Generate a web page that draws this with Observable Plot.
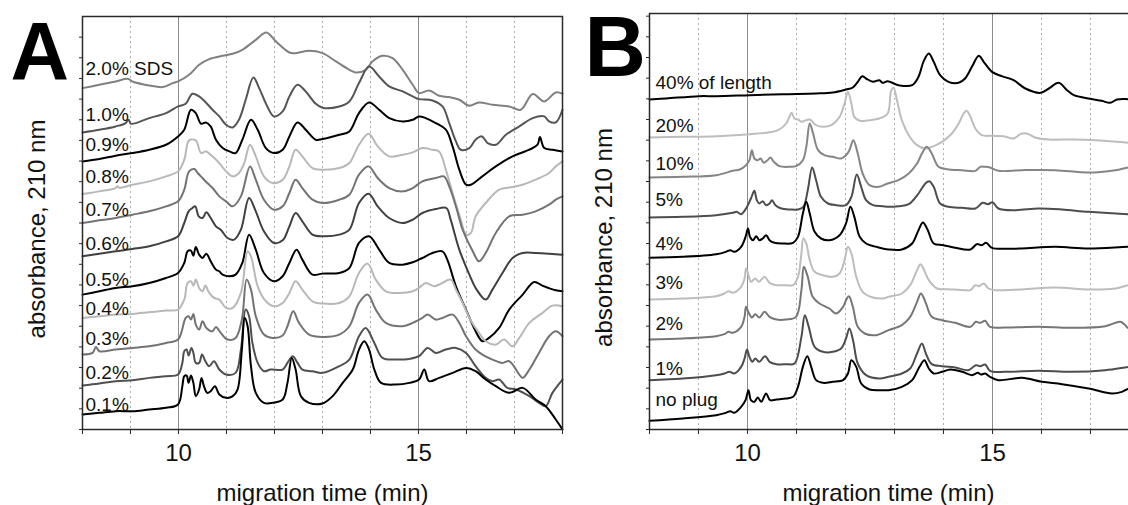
<!DOCTYPE html>
<html>
<head>
<meta charset="utf-8">
<script src="https://cdn.jsdelivr.net/npm/d3@7"></script>
<script src="https://cdn.jsdelivr.net/npm/@observablehq/plot@0.6"></script>
<style>
  html, body { margin: 0; padding: 0; background: #fff; overflow: hidden; }
  #wrap { position: relative; width: 1128px; height: 505px; overflow: hidden; }
  #wrap > div { position: absolute; top: 0; }
  #wrap svg { max-width: none !important; }
</style>
</head>
<body>
<div id="wrap"><div id="pa" style="left:0;width:570px"></div><div id="pb" style="left:570px;width:579px"></div></div>
<script>
// ---------- DATA (migration time in min, absorbance in arbitrary units) ----------
// Panel A: SDS concentration in plug
const a_sds20 = [[8.00,1025],[8.35,1035],[8.69,1045],[8.94,1053],[9.04,1045],[9.39,1033],[9.67,1028],[9.88,1040],[9.99,1045],[10.22,1065],[10.43,1095],[10.64,1112],[10.92,1122],[11.13,1128],[11.33,1140],[11.61,1170],[11.83,1192],[12.03,1165],[12.31,1132],[12.44,1130],[12.72,1137],[13.00,1130],[13.28,1105],[13.56,1080],[13.69,1072],[13.90,1080],[14.04,1105],[14.25,1122],[14.46,1115],[14.67,1080],[14.88,1035],[15.01,1010],[15.22,1018],[15.43,1002],[15.64,998],[15.85,990],[16.06,972],[16.26,982],[16.54,975],[16.89,970],[17.13,960],[17.38,1007],[17.62,985],[17.86,1012],[18.00,1008]];
const a_p10 = [[8.00,892],[8.35,900],[8.69,910],[8.90,920],[8.96,930],[9.01,918],[9.39,935],[9.74,950],[9.99,970],[10.15,978],[10.29,1008],[10.43,1000],[10.57,982],[10.71,960],[10.85,940],[10.99,915],[11.13,907],[11.26,930],[11.40,990],[11.56,1057],[11.68,1025],[11.85,970],[11.99,940],[12.17,955],[12.31,1000],[12.48,1035],[12.65,1015],[12.86,978],[13.00,966],[13.35,970],[13.56,985],[13.76,1040],[13.97,1090],[14.18,1060],[14.39,1030],[14.67,1015],[14.88,1000],[15.01,992],[15.29,988],[15.50,970],[15.64,920],[15.78,865],[15.88,840],[16.06,845],[16.19,870],[16.32,880],[16.44,860],[16.61,855],[16.82,885],[17.10,910],[17.38,935],[17.62,940],[17.72,925],[17.86,922],[18.00,960]];
const a_p09 = [[8.00,805],[8.35,812],[8.69,822],[9.04,830],[9.39,840],[9.74,855],[9.99,880],[10.12,900],[10.26,960],[10.36,950],[10.47,918],[10.57,922],[10.67,910],[10.78,870],[10.92,845],[11.06,835],[11.19,830],[11.33,870],[11.51,930],[11.65,900],[11.82,845],[11.99,830],[12.17,840],[12.31,880],[12.48,922],[12.65,900],[12.86,870],[13.00,872],[13.35,885],[13.56,895],[13.76,950],[13.97,982],[14.18,960],[14.39,935],[14.67,925],[14.88,930],[15.01,940],[15.15,935],[15.36,920],[15.57,900],[15.71,850],[15.85,780],[15.99,735],[16.09,735],[16.33,760],[16.61,790],[16.96,820],[17.31,840],[17.48,855],[17.53,878],[17.62,845],[17.79,840],[18.00,835]];
const a_p08 = [[8.00,707],[8.35,715],[8.69,725],[8.73,730],[8.76,726],[9.04,735],[9.39,745],[9.74,760],[9.99,775],[10.12,810],[10.22,868],[10.36,868],[10.47,830],[10.57,835],[10.71,820],[10.85,800],[10.99,775],[11.13,760],[11.26,770],[11.37,800],[11.49,855],[11.61,820],[11.78,760],[11.96,740],[12.17,750],[12.31,790],[12.44,840],[12.58,820],[12.79,785],[13.00,780],[13.35,785],[13.56,800],[13.76,855],[13.96,888],[14.15,850],[14.39,820],[14.67,825],[14.88,832],[15.08,845],[15.29,840],[15.43,835],[15.57,780],[15.71,710],[15.88,630],[15.99,585],[16.09,590],[16.19,640],[16.40,680],[16.68,720],[16.96,728],[17.17,735],[17.44,750],[17.72,770],[17.86,790],[18.00,805]];
const a_p07 = [[8.00,620],[8.35,628],[8.69,635],[9.04,645],[9.39,655],[9.74,670],[9.99,685],[10.12,720],[10.22,775],[10.33,782],[10.40,770],[10.50,755],[10.60,740],[10.71,725],[10.85,700],[10.99,685],[11.13,670],[11.30,700],[11.49,790],[11.61,750],[11.78,690],[11.99,660],[12.17,670],[12.31,710],[12.44,750],[12.58,725],[12.79,690],[13.00,680],[13.35,690],[13.56,705],[13.76,765],[13.96,790],[14.15,755],[14.39,725],[14.67,715],[14.88,725],[15.08,745],[15.36,755],[15.53,760],[15.64,730],[15.78,670],[15.92,600],[16.13,535],[16.26,505],[16.40,530],[16.61,590],[16.89,640],[17.17,645],[17.44,655],[17.72,675],[17.86,690],[18.00,700]];
const a_p06 = [[8.00,520],[8.35,528],[8.69,535],[9.04,542],[9.39,550],[9.74,565],[9.99,580],[10.12,620],[10.21,655],[10.29,665],[10.35,670],[10.42,640],[10.50,635],[10.58,652],[10.67,635],[10.78,610],[10.88,600],[11.02,575],[11.16,570],[11.30,600],[11.47,695],[11.61,655],[11.78,595],[11.99,560],[12.17,568],[12.31,610],[12.44,650],[12.58,625],[12.79,585],[13.00,580],[13.35,585],[13.56,600],[13.76,680],[13.96,708],[14.15,670],[14.39,635],[14.67,620],[14.88,630],[15.08,650],[15.36,662],[15.58,665],[15.67,630],[15.85,540],[16.06,465],[16.19,425],[16.40,390],[16.54,420],[16.75,470],[16.96,515],[17.17,530],[17.44,530],[17.72,528],[18.00,525]];
const a_p05 = [[8.00,405],[8.35,415],[8.69,425],[9.04,430],[9.39,440],[9.74,455],[9.99,470],[10.12,500],[10.19,535],[10.26,537],[10.31,522],[10.36,548],[10.43,525],[10.50,515],[10.58,528],[10.67,505],[10.78,480],[10.85,475],[10.92,465],[11.06,460],[11.19,465],[11.33,500],[11.47,585],[11.61,540],[11.78,470],[11.99,445],[12.17,460],[12.31,500],[12.46,540],[12.58,510],[12.79,465],[13.00,468],[13.35,470],[13.56,485],[13.76,560],[13.97,580],[14.18,540],[14.39,500],[14.67,495],[14.88,502],[15.08,515],[15.29,530],[15.50,535],[15.60,510],[15.78,430],[15.99,360],[16.19,295],[16.33,265],[16.47,275],[16.68,305],[16.89,360],[17.17,405],[17.41,443],[17.58,432],[17.86,418],[18.00,415]];
const a_p04 = [[8.00,335],[8.35,340],[8.69,345],[9.04,347],[9.39,352],[9.74,357],[9.99,360],[10.12,390],[10.19,440],[10.26,445],[10.31,432],[10.36,450],[10.43,425],[10.50,415],[10.56,432],[10.64,410],[10.74,395],[10.85,390],[10.99,365],[11.13,365],[11.30,410],[11.44,535],[11.51,520],[11.65,430],[11.82,385],[11.99,370],[12.17,380],[12.31,410],[12.44,445],[12.58,420],[12.79,385],[13.00,378],[13.35,380],[13.56,400],[13.76,470],[13.94,498],[14.11,450],[14.32,415],[14.60,410],[14.88,415],[15.01,425],[15.15,440],[15.33,430],[15.47,438],[15.67,450],[15.78,420],[15.92,380],[16.06,335],[16.26,290],[16.40,265],[16.61,255],[16.78,270],[16.96,250],[17.10,275],[17.31,320],[17.58,350],[17.79,372],[18.00,370]];
const a_p03 = [[8.00,225],[8.21,230],[8.28,248],[8.35,235],[8.69,240],[9.04,245],[9.39,250],[9.74,260],[9.99,270],[10.15,335],[10.21,340],[10.26,330],[10.31,347],[10.36,315],[10.43,300],[10.50,325],[10.58,305],[10.71,295],[10.78,308],[10.88,290],[11.02,270],[11.19,275],[11.32,330],[11.42,450],[11.51,420],[11.61,340],[11.78,285],[11.96,275],[12.17,282],[12.27,310],[12.39,355],[12.51,320],[12.72,285],[13.00,278],[13.35,285],[13.56,310],[13.76,380],[13.94,405],[14.11,360],[14.32,320],[14.67,310],[14.88,320],[15.08,335],[15.19,345],[15.36,330],[15.50,335],[15.71,345],[15.85,320],[15.99,280],[16.19,240],[16.33,225],[16.54,210],[16.75,200],[16.89,205],[17.10,165],[17.17,155],[17.31,180],[17.51,230],[17.72,280],[17.86,295],[18.00,280]];
const a_p02 = [[8.00,132],[8.35,138],[8.69,145],[9.04,148],[9.39,155],[9.74,160],[9.99,165],[10.08,200],[10.12,235],[10.17,240],[10.21,222],[10.27,245],[10.31,230],[10.36,200],[10.43,200],[10.49,225],[10.56,205],[10.64,190],[10.74,205],[10.85,180],[10.99,165],[11.19,170],[11.30,240],[11.40,360],[11.47,340],[11.54,260],[11.65,200],[11.78,175],[11.92,180],[12.17,180],[12.27,200],[12.38,220],[12.48,200],[12.58,180],[12.79,175],[13.00,170],[13.35,190],[13.56,210],[13.76,280],[13.90,305],[14.08,260],[14.25,215],[14.53,210],[14.81,212],[15.01,220],[15.19,245],[15.36,230],[15.57,240],[15.78,245],[15.99,230],[16.19,190],[16.40,155],[16.54,145],[16.68,150],[16.85,125],[17.03,120],[17.31,100],[17.51,80],[17.65,70],[17.79,110],[18.00,150]];
const a_p01 = [[8.00,45],[8.35,50],[8.69,55],[9.04,55],[9.39,60],[9.74,65],[9.99,75],[10.08,130],[10.12,160],[10.17,162],[10.21,140],[10.26,162],[10.31,140],[10.36,100],[10.43,120],[10.48,155],[10.53,130],[10.60,110],[10.67,115],[10.76,130],[10.85,105],[10.99,95],[11.13,100],[11.23,120],[11.32,240],[11.38,335],[11.44,310],[11.51,190],[11.61,110],[11.78,80],[11.96,80],[12.17,90],[12.27,140],[12.36,215],[12.44,180],[12.55,100],[12.72,80],[13.00,78],[13.21,100],[13.42,140],[13.63,180],[13.76,240],[13.87,265],[13.97,240],[14.08,180],[14.22,140],[14.53,135],[14.81,140],[15.01,150],[15.12,180],[15.22,145],[15.43,155],[15.71,170],[15.99,185],[16.19,175],[16.40,150],[16.61,130],[16.89,110],[17.17,125],[17.44,90],[17.65,70],[17.86,30],[18.00,0]];
const seriesA = [a_sds20, a_p10, a_p09, a_p08, a_p07, a_p06, a_p05, a_p04, a_p03, a_p02, a_p01];
const labelsA = ["2.0% SDS","1.0%","0.9%","0.8%","0.7%","0.6%","0.5%","0.4%","0.3%","0.2%","0.1%"];
const labelLevelA = [1065, 925, 835, 740, 642, 540, 432, 345, 255, 152, 55];

// Panel B: plug length (% of capillary length)
const b_40 = [[8.00,990],[8.34,993],[9.01,1000],[9.36,1000],[10.04,1003],[10.72,1006],[11.40,1008],[11.74,1011],[12.01,1020],[12.15,1026],[12.25,1043],[12.34,1060],[12.42,1053],[12.56,1043],[12.69,1048],[12.76,1040],[12.86,1045],[13.08,1033],[13.36,1033],[13.49,1058],[13.59,1103],[13.70,1128],[13.80,1103],[13.93,1063],[14.10,1043],[14.31,1040],[14.44,1053],[14.58,1088],[14.72,1121],[14.82,1103],[14.99,1073],[15.19,1060],[15.43,1048],[15.67,1023],[15.98,1010],[16.15,1023],[16.35,1040],[16.52,1018],[16.66,1003],[16.96,993],[17.23,986],[17.40,980],[17.54,990],[17.78,991],[18.00,990]];
const b_20 = [[8.00,876],[8.68,878],[9.36,880],[10.04,886],[10.38,890],[10.62,898],[10.79,918],[10.86,940],[10.90,950],[10.96,933],[11.03,930],[11.10,923],[11.16,926],[11.27,930],[11.40,913],[11.54,908],[11.71,913],[11.88,938],[11.98,978],[12.05,1013],[12.12,978],[12.18,938],[12.29,926],[12.49,928],[12.69,933],[12.86,948],[12.93,1016],[12.98,1026],[13.05,988],[13.15,928],[13.29,883],[13.46,853],[13.63,843],[13.76,848],[13.97,863],[14.17,888],[14.31,918],[14.41,948],[14.47,956],[14.55,938],[14.65,903],[14.78,883],[14.99,881],[15.23,880],[15.43,873],[15.57,886],[15.70,888],[15.87,876],[16.15,870],[16.62,870],[17.10,868],[17.78,860],[18.00,858]];
const b_10 = [[8.00,756],[8.68,758],[9.36,763],[9.70,776],[9.84,780],[9.97,793],[10.04,808],[10.09,838],[10.14,813],[10.21,808],[10.27,813],[10.33,800],[10.41,808],[10.47,816],[10.54,803],[10.65,790],[10.86,788],[10.99,790],[11.13,808],[11.20,848],[11.27,918],[11.33,893],[11.44,838],[11.57,823],[11.74,818],[11.91,813],[12.01,823],[12.08,838],[12.16,868],[12.25,828],[12.35,768],[12.49,733],[12.69,728],[12.86,738],[13.08,748],[13.29,768],[13.46,798],[13.56,828],[13.66,848],[13.76,828],[13.90,788],[14.07,781],[14.38,778],[14.65,776],[14.75,788],[14.85,788],[14.95,786],[15.12,776],[15.60,778],[16.28,778],[16.96,771],[17.51,778],[17.78,786],[18.00,788]];
const b_05 = [[8.00,636],[8.68,638],[9.36,643],[9.70,650],[9.78,653],[9.87,646],[9.97,663],[10.07,693],[10.14,716],[10.19,688],[10.24,678],[10.31,685],[10.38,673],[10.45,678],[10.50,688],[10.57,673],[10.69,663],[10.86,660],[11.03,660],[11.14,668],[11.23,718],[11.32,786],[11.40,748],[11.50,698],[11.64,678],[11.81,673],[12.01,673],[12.12,698],[12.23,765],[12.32,728],[12.42,688],[12.56,673],[12.76,670],[12.88,668],[13.08,670],[13.29,676],[13.49,708],[13.63,738],[13.71,745],[13.80,728],[13.93,678],[14.10,668],[14.38,665],[14.65,663],[14.80,680],[14.91,676],[15.00,682],[15.12,663],[15.47,658],[15.94,663],[16.42,660],[16.96,653],[17.78,646],[18.00,645]];
const b_04 = [[8.00,515],[8.68,518],[9.36,526],[9.56,533],[9.65,538],[9.73,533],[9.87,548],[9.96,578],[10.01,603],[10.05,578],[10.11,568],[10.18,580],[10.24,568],[10.31,573],[10.38,583],[10.45,568],[10.55,560],[10.72,558],[10.93,560],[11.03,578],[11.13,648],[11.20,683],[11.27,648],[11.37,593],[11.50,573],[11.67,568],[11.88,583],[12.01,618],[12.10,668],[12.18,638],[12.29,578],[12.42,558],[12.63,548],[12.88,540],[13.15,540],[13.36,558],[13.49,598],[13.58,621],[13.68,598],[13.80,558],[14.00,553],[14.24,545],[14.55,540],[14.68,556],[14.78,553],[14.87,560],[14.99,545],[15.26,542],[15.60,543],[16.28,548],[16.96,543],[17.78,548],[18.00,548]];
const b_03 = [[8.00,390],[8.68,393],[9.36,400],[9.53,408],[9.61,415],[9.70,410],[9.87,428],[9.94,453],[9.97,483],[10.03,458],[10.07,443],[10.16,453],[10.23,443],[10.35,458],[10.45,440],[10.59,433],[10.79,433],[10.93,433],[11.03,458],[11.10,528],[11.14,573],[11.20,558],[11.27,508],[11.37,473],[11.54,463],[11.74,458],[11.88,468],[11.98,508],[12.05,548],[12.12,528],[12.22,458],[12.35,413],[12.56,396],[12.76,393],[12.88,398],[13.15,408],[13.32,433],[13.46,478],[13.53,496],[13.59,483],[13.70,448],[13.87,423],[14.10,421],[14.44,418],[14.55,418],[14.65,433],[14.73,430],[14.82,438],[14.92,423],[15.06,418],[15.60,420],[16.28,426],[16.96,420],[17.51,423],[17.78,433],[18.00,438]];
const b_02 = [[8.00,270],[8.68,273],[9.36,280],[9.53,286],[9.61,293],[9.70,290],[9.87,308],[9.94,338],[9.97,368],[10.03,348],[10.09,336],[10.16,346],[10.24,336],[10.35,353],[10.45,338],[10.59,330],[10.79,330],[10.99,338],[11.10,418],[11.15,488],[11.23,458],[11.33,398],[11.47,378],[11.67,363],[11.81,348],[11.95,368],[12.01,388],[12.07,400],[12.15,368],[12.25,308],[12.39,288],[12.63,283],[12.88,298],[13.15,313],[13.32,338],[13.46,383],[13.54,408],[13.63,383],[13.76,338],[13.97,328],[14.24,320],[14.55,308],[14.66,323],[14.75,320],[14.85,326],[14.95,308],[15.26,306],[15.94,308],[16.62,305],[17.30,310],[17.61,323],[17.71,313],[17.78,303],[18.00,298]];
const b_01 = [[8.00,148],[8.68,153],[9.36,163],[9.53,168],[9.63,173],[9.73,168],[9.87,188],[9.94,213],[9.99,240],[10.04,218],[10.10,203],[10.16,213],[10.24,203],[10.36,220],[10.45,203],[10.59,196],[10.79,196],[10.96,198],[11.10,278],[11.17,343],[11.25,308],[11.37,248],[11.54,233],[11.74,233],[11.91,243],[12.01,273],[12.08,303],[12.16,263],[12.25,198],[12.42,163],[12.69,153],[12.88,158],[13.15,168],[13.32,183],[13.46,228],[13.56,258],[13.64,228],[13.76,196],[13.97,190],[14.24,186],[14.51,178],[14.66,193],[14.75,190],[14.85,195],[14.95,176],[15.26,173],[15.94,176],[16.62,173],[17.30,178],[17.78,188],[18.00,192]];
const b_00 = [[8.00,26],[8.68,33],[9.36,43],[9.56,50],[9.65,55],[9.73,50],[9.87,68],[9.96,88],[10.02,118],[10.07,88],[10.14,83],[10.21,96],[10.28,83],[10.38,108],[10.46,88],[10.59,90],[10.79,93],[10.93,98],[11.03,128],[11.13,188],[11.22,220],[11.30,188],[11.40,148],[11.54,140],[11.74,143],[11.95,148],[12.05,168],[12.12,208],[12.22,188],[12.32,138],[12.49,120],[12.76,118],[12.88,118],[13.15,128],[13.36,148],[13.51,188],[13.61,208],[13.70,183],[13.80,168],[13.97,173],[14.14,180],[14.38,173],[14.58,163],[14.70,170],[14.77,165],[14.85,168],[14.95,158],[15.12,148],[15.60,155],[16.01,143],[16.42,136],[16.96,123],[17.44,108],[17.64,113],[17.78,123],[18.00,130]];
const seriesB = [b_40, b_20, b_10, b_05, b_04, b_03, b_02, b_01, b_00];
const labelsB = ["40% of length","20%","10%","5%","4%","3%","2%","1%","no plug"];
const labelLevelB = [1023, 893, 778, 670, 538, 423, 298, 165, 70];

const xTicks = [8, 9, 10, 11, 12, 13, 14, 15, 16, 17, 18];
const majorGrid = [10, 15];
const minorGrid = [9, 11, 12, 13, 14, 16, 17];
const xTitle = "migration time (min)";
const yTitle = "absorbance, 210 nm";

// ---------- STYLES ----------
const colorsA = ["#808080", "#555555", "#000000", "#b8b8b8", "#737373", "#404040", "#000000", "#b8b8b8", "#737373", "#505050", "#000000"];
const colorsB = ["#000000", "#bdbdbd", "#858585", "#4d4d4d", "#000000", "#bdbdbd", "#767676", "#4d4d4d", "#000000"];
const FONT = "'Liberation Sans', Arial, Helvetica, sans-serif";

function panel({series, labels, levels, colors, letter, yMax, width, mLeft, mRight, mTop, letterDx, letterSize, labelDx, titleDx, yTitleDy}) {
  const tidy = labels.map((name, i) => ({name, level: levels[i]}));
  return Plot.plot({
    width, height: 505,
    marginLeft: mLeft, marginRight: mRight, marginTop: mTop, marginBottom: 76,
    style: {fontFamily: FONT, background: "transparent", overflow: "visible", maxWidth: "none"},
    x: {domain: [8, 18]},
    y: {domain: [0, yMax]},
    marks: [
      Plot.ruleX(minorGrid, {stroke: "#9a9a9a", strokeWidth: 0.8, strokeDasharray: "2,3"}),
      Plot.ruleX(majorGrid, {stroke: "#8c8c8c", strokeWidth: 1}),
      ...series.map((s, i) => Plot.line(s, {x: d => d[0], y: d => d[1], stroke: colors[i], strokeWidth: 2, curve: "catmull-rom"})),
      Plot.text(tidy, {y: "level", text: "name", frameAnchor: "left", dx: labelDx, textAnchor: "start", lineAnchor: "bottom", fontSize: 19, fill: "#111"}),
      Plot.frame({stroke: "#2a2a2a", strokeWidth: 1.5}),
      Plot.axisX({ticks: xTicks, tickFormat: d => (d % 5 === 0 ? String(d) : ""), tickSize: 5, tickPadding: 9, fontSize: 24, label: null, stroke: "#2a2a2a", fill: "#111"}),
      Plot.axisY({ticks: d3.range(0, yMax, 62), tickFormat: () => "", tickSize: 3, label: null, stroke: "#2a2a2a"}),
      Plot.text([xTitle], {frameAnchor: "bottom", dx: titleDx, dy: 71, lineAnchor: "bottom", fontSize: 24, fill: "#111"}),
      Plot.text([yTitle], {frameAnchor: "left", dx: -45, dy: yTitleDy, rotate: -90, textAnchor: "middle", lineAnchor: "middle", fontSize: 24, fill: "#111"}),
      Plot.text([letter], {frameAnchor: "top-left", dx: letterDx, dy: 62, textAnchor: "start", lineAnchor: "bottom", fontSize: letterSize, fontWeight: "bold", fill: "#000"})
    ]
  });
}

document.getElementById("pa").append(panel({
  series: seriesA, labels: labelsA, levels: labelLevelA, colors: colorsA, letter: "A",
  yMax: 1240, width: 570, mLeft: 82, mRight: 8, mTop: 16, letterDx: -72, letterSize: 81,
  labelDx: 3, titleDx: 0, yTitleDy: 6
}));
document.getElementById("pb").append(panel({
  series: seriesB, labels: labelsB, levels: labelLevelB, colors: colorsB, letter: "B",
  yMax: 1248, width: 579, mLeft: 79, mRight: 10, mTop: 13, letterDx: -65, letterSize: 85,
  labelDx: 6, titleDx: -6, yTitleDy: 16
}));
</script>
</body>
</html>
